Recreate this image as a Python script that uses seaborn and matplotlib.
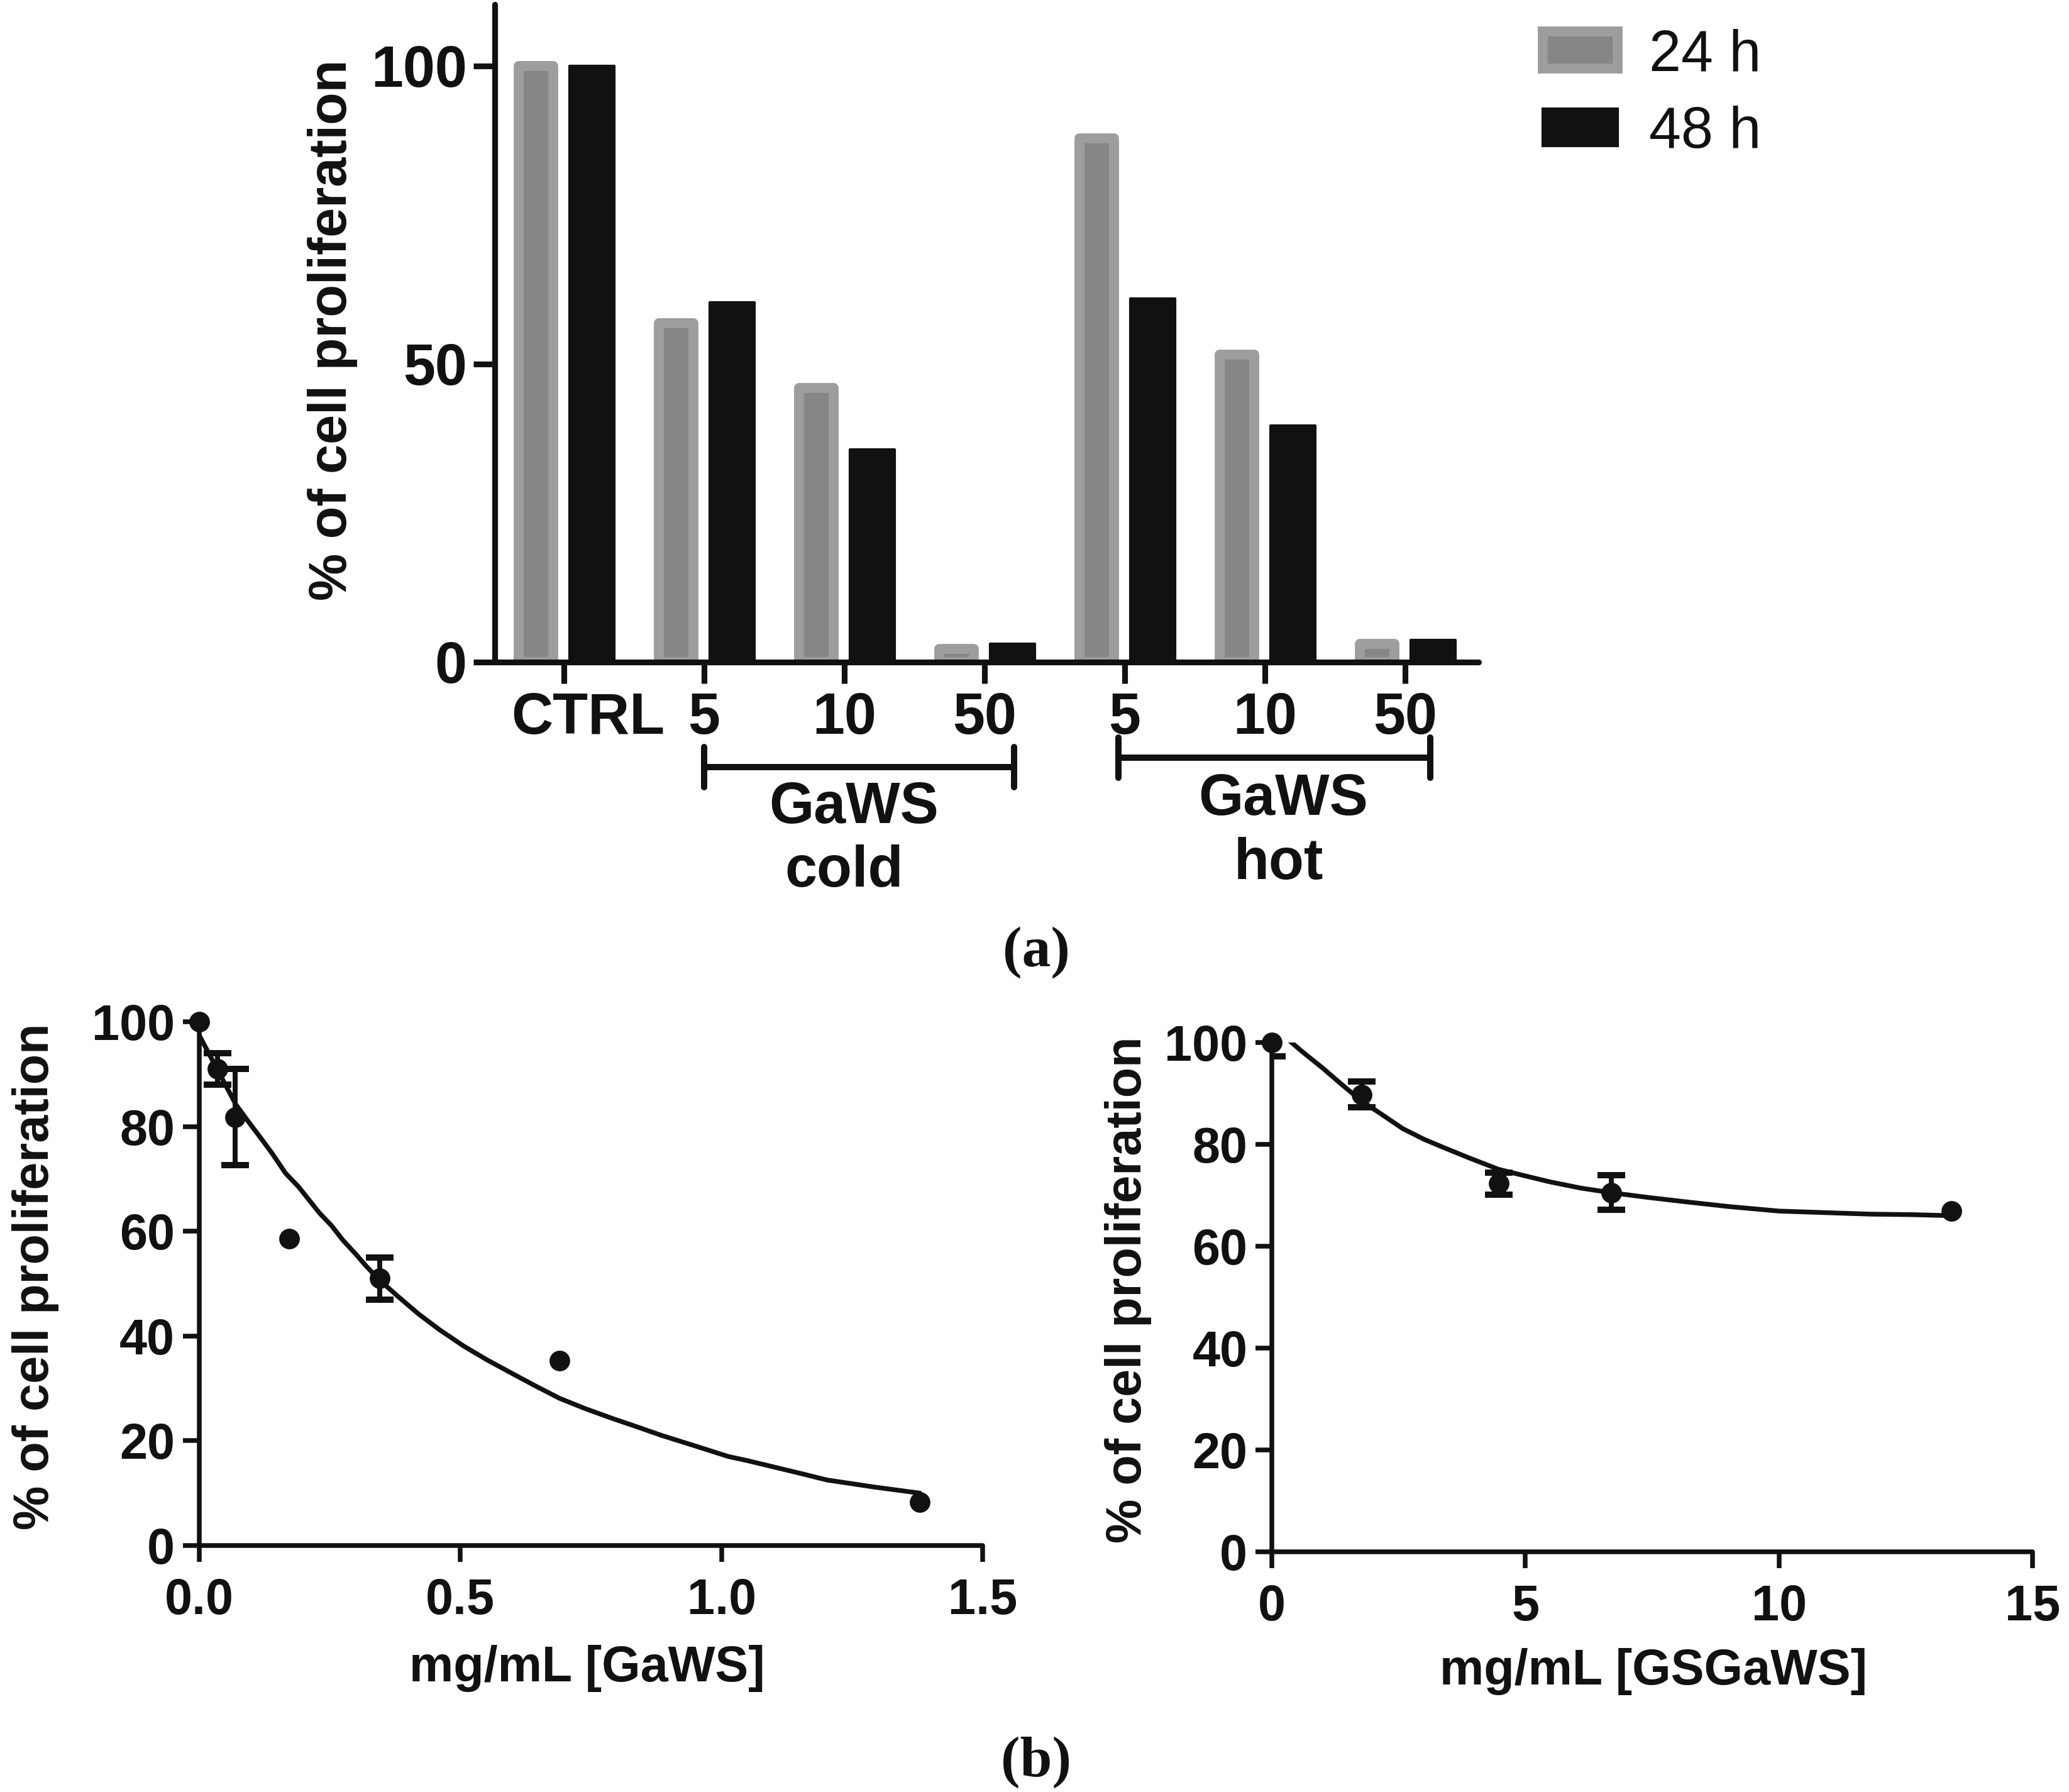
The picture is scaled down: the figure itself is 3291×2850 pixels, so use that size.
import numpy as np
import pandas as pd
import matplotlib
matplotlib.use("Agg")
import matplotlib.pyplot as plt
from matplotlib import font_manager as fm
from matplotlib.patches import Patch
from matplotlib.transforms import blended_transform_factory, ScaledTranslation
import seaborn as sns

# ---------------- data ----------------
bar_groups = ["CTRL", "cold 5", "cold 10", "cold 50", "hot 5", "hot 10", "hot 50"]
bar_tick_labels = ["CTRL", "5", "10", "50", "5", "10", "50"]
time_levels = ["24 h", "48 h"]
prolif_24h = [100.0, 56.8, 46.0, 2.2, 87.8, 51.6, 3.1]
prolif_48h = [100.0, 60.3, 35.6, 3.1, 61.0, 39.6, 3.7]

gaws_conc = [0.0, 0.0345, 0.069, 0.1725, 0.345, 0.69, 1.38]
gaws_mean = [100.0, 91.0, 81.8, 58.6, 51.0, 35.3, 8.3]
gaws_err = [0.0, 3.0, 9.2, 0.0, 4.0, 0.0, 0.0]
gaws_fit_x = [0.0, 0.0175, 0.035, 0.07, 0.095, 0.12, 0.14, 0.165, 0.19, 0.21, 0.23,
              0.253, 0.275, 0.30, 0.32, 0.346, 0.38, 0.42, 0.46, 0.506, 0.55, 0.60,
              0.645, 0.69, 0.74, 0.79, 0.84, 0.886, 0.95, 1.013, 1.05, 1.10, 1.15,
              1.2025, 1.25, 1.29, 1.335, 1.38]
gaws_fit_y = [97.4, 94.1, 90.8, 84.2, 80.8, 77.5, 74.8, 71.1, 68.5, 66.0, 63.5,
              61.1, 58.3, 55.6, 53.3, 50.6, 47.6, 44.2, 41.2, 38.1, 35.5, 32.8,
              30.4, 28.1, 26.1, 24.3, 22.6, 21.0, 19.0, 17.0, 16.2, 15.0, 13.8,
              12.5, 11.8, 11.2, 10.6, 10.0]

gsgaws_conc = [0.0, 1.77, 4.47, 6.7, 13.4]
gsgaws_mean = [100.0, 89.8, 72.3, 70.5, 66.9]
gsgaws_err = [2.7, 2.5, 2.2, 3.4, 0.0]
gsgaws_fit_x = [0.33, 0.6, 1.0, 1.35, 1.77, 2.15, 2.58, 3.0, 3.43, 3.9, 4.47, 5.0,
                5.5, 6.1, 6.7, 7.4, 8.18, 9.0, 10.0, 10.9, 11.8, 12.6, 13.4]
gsgaws_fit_y = [100.5, 98.2, 95.0, 92.0, 88.5, 86.0, 83.1, 81.0, 79.2, 77.3, 75.1, 73.8,
                72.6, 71.4, 70.5, 69.6, 68.7, 67.8, 66.9, 66.6, 66.3, 66.2, 66.0]

# ---------------- style ----------------
names = {f.name for f in fm.fontManager.ttflist}
NARROW = "Liberation Sans Narrow" if "Liberation Sans Narrow" in names else "Liberation Sans"
SANS = "Liberation Sans"
SERIF = "Liberation Serif"
INK = "#111111"
GRAY_FILL = "#858685"
GRAY_EDGE = "#9c9d9c"

sns.set_theme(style="ticks")
plt.rcParams.update({
    "font.family": [NARROW, "DejaVu Sans"],
    "font.weight": "bold",
    "text.color": INK,
    "axes.edgecolor": INK,
    "axes.labelcolor": INK,
    "xtick.color": INK,
    "ytick.color": INK,
})

W, H, DPI = 3291, 2850, 300
fig = plt.figure(figsize=(W / DPI, H / DPI), dpi=DPI)
fig.patch.set_facecolor("white")

# ---------------- (a) bar chart ----------------
ax_a = fig.add_axes([0.23913, 0.63053, 0.47555, 0.36701])
df_bar = pd.DataFrame({
    "group": bar_groups * 2,
    "time": [time_levels[0]] * len(bar_groups) + [time_levels[1]] * len(bar_groups),
    "value": prolif_24h + prolif_48h,
})
sns.barplot(data=df_bar, x="group", y="value", hue="time", order=bar_groups,
            hue_order=time_levels, palette={time_levels[0]: GRAY_FILL, time_levels[1]: INK},
            width=0.8, gap=0.2, errorbar=None, legend=False, saturation=1, ax=ax_a)
ax_a.set_xlim(-0.493, 6.525)
ax_a.set_ylim(0, 110.3)
ax_a.set_yticks([0, 50, 100])
ax_a.set_xticks(range(len(bar_groups)))
ax_a.set_xticklabels(bar_tick_labels)
ax_a.set_xlabel("")
ax_a.set_ylabel("")
sns.despine(ax=ax_a)
for s in ("left", "bottom"):
    ax_a.spines[s].set_linewidth(2.2)
    ax_a.spines[s].set_capstyle("round")
ax_a.tick_params(axis="both", length=8.2, width=2.2, labelsize=22)
ax_a.tick_params(axis="y", pad=2.4)
ax_a.tick_params(axis="x", pad=3.0)
# CTRL label sits slightly right of its tick in the reference
lab0 = ax_a.get_xticklabels()[0]
lab0.set_transform(lab0.get_transform() + ScaledTranslation(38 / DPI, 0, fig.dpi_scale_trans))

edge_lw = 3.8
px_per_unit = ax_a.get_window_extent().width / (ax_a.get_xlim()[1] - ax_a.get_xlim()[0])
d = edge_lw * DPI / 72 / px_per_unit
for p in ax_a.containers[0]:
    p.set_x(p.get_x() + d / 2)
    p.set_width(p.get_width() - d)
    p.set_edgecolor(GRAY_EDGE)
    p.set_linewidth(edge_lw)
    p.set_joinstyle("round")
for p in ax_a.containers[1]:
    p.set_edgecolor(INK)
    p.set_linewidth(1.0)
    p.set_joinstyle("round")

# group brackets under the axis
trans = blended_transform_factory(ax_a.transData, fig.transFigure)
cap = 32 / H
for x0, x1, yy in [(1.0, 3.21, 1 - 1220 / H), (3.955, 6.18, 1 - 1205 / H)]:
    ax_a.plot([x0, x1], [yy, yy], transform=trans, clip_on=False, color=INK, lw=2.4,
              solid_capstyle="round")
    for xx in (x0, x1):
        ax_a.plot([xx, xx], [yy - cap, yy + cap], transform=trans, clip_on=False,
                  color=INK, lw=2.4, solid_capstyle="round")
ax_a.text(2.07, 1 - 1285 / H, "GaWS", transform=trans, ha="center", va="center", fontsize=22)
ax_a.text(2.00, 1 - 1386 / H, "cold", transform=trans, ha="center", va="center", fontsize=22)
ax_a.text(5.13, 1 - 1272 / H, "GaWS", transform=trans, ha="center", va="center", fontsize=22)
ax_a.text(5.10, 1 - 1374 / H, "hot", transform=trans, ha="center", va="center", fontsize=22)

fig.text(0.1607, 0.8158, "% of cell proliferation", rotation=90, ha="center", va="center",
         family=SANS, weight="bold", fontsize=20.3)

handles = [Patch(facecolor=GRAY_FILL, edgecolor=GRAY_EDGE, linewidth=edge_lw, joinstyle="round"),
           Patch(facecolor=INK, edgecolor=INK, linewidth=1.0, joinstyle="round")]
fig.legend(handles, time_levels, loc="upper left", bbox_to_anchor=(0.7456, 0.9842),
           frameon=False, prop={"family": NARROW, "weight": "normal", "size": 22},
           handlelength=1.3, handleheight=0.62, handletextpad=0.55, labelspacing=0.40,
           borderpad=0, borderaxespad=0)

fig.text(0.5008, 0.4684, "(a)", family=SERIF, weight="bold", fontsize=22, ha="center", va="center")

# ---------------- (b) dose-response ----------------
def dose_panel(rect, conc, mean, err, fx, fy, xmax, xticks, xticklabels, xlabel, xlab_pos, ylab_pos):
    ax = fig.add_axes(rect)
    sns.lineplot(x=fx, y=fy, ax=ax, color=INK, lw=1.8, sort=False, estimator=None)
    conc_a, mean_a, err_a = np.array(conc), np.array(mean), np.array(err)
    m = err_a > 0
    ax.errorbar(conc_a[m], mean_a[m], yerr=err_a[m], fmt="none", ecolor=INK,
                elinewidth=1.9, capsize=5.2, capthick=2.4)
    sns.scatterplot(x=conc, y=mean, ax=ax, color=INK, s=62, linewidth=0, clip_on=False, zorder=4)
    ax.set_xlim(0, xmax)
    ax.set_ylim(0, 100)
    ax.set_xticks(xticks)
    ax.set_xticklabels(xticklabels)
    ax.set_yticks([0, 20, 40, 60, 80, 100])
    ax.set_xlabel("")
    ax.set_ylabel("")
    sns.despine(ax=ax)
    for s in ("left", "bottom"):
        ax.spines[s].set_linewidth(1.8)
        ax.spines[s].set_capstyle("round")
    ax.tick_params(axis="both", length=6.3, width=1.8, labelsize=19)
    ax.tick_params(axis="x", pad=6)
    ax.tick_params(axis="y", pad=3)
    fig.text(xlab_pos[0], xlab_pos[1], xlabel, ha="center", va="center", fontsize=19)
    fig.text(ylab_pos[0], ylab_pos[1], "% of cell proliferation", rotation=90, ha="center",
             va="center", family=SANS, weight="bold", fontsize=19)
    return ax

dose_panel([0.09632, 0.13754, 0.37861, 0.29228], gaws_conc, gaws_mean, gaws_err,
           gaws_fit_x, gaws_fit_y, 1.5, [0, 0.5, 1.0, 1.5], ["0.0", "0.5", "1.0", "1.5"],
           "mg/mL [GaWS]", (0.2838, 0.0690), (0.0173, 0.2877))
dose_panel([0.61471, 0.13404, 0.36766, 0.28421], gsgaws_conc, gsgaws_mean, gsgaws_err,
           gsgaws_fit_x, gsgaws_fit_y, 15, [0, 5, 10, 15], ["0", "5", "10", "15"],
           "mg/mL [GSGaWS]", (0.7991, 0.0672), (0.5454, 0.2804))

fig.text(0.5008, 0.0168, "(b)", family=SERIF, weight="bold", fontsize=22, ha="center", va="center")

fig.savefig("out.png", dpi=DPI, facecolor="white")
